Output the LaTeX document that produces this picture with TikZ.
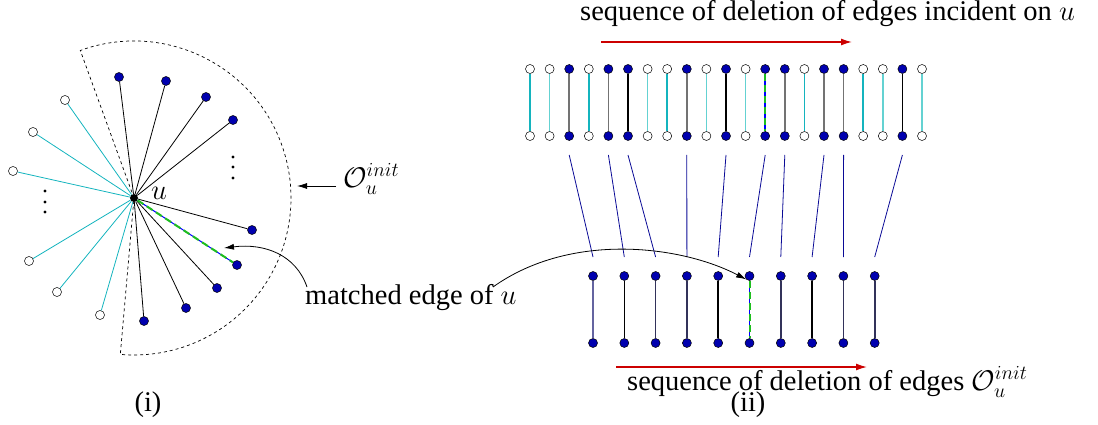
\RequirePackage{fix-cm}
\documentclass[tikz,border=0pt]{standalone}
\usepackage{fontspec}
\setmainfont{Liberation Serif}
\usetikzlibrary{arrows.meta}
\definecolor{nodeblue}{RGB}{0,0,175}
\definecolor{cyanA}{RGB}{20,180,190}
\definecolor{cyanB}{RGB}{100,210,210}
\definecolor{grayE}{RGB}{115,115,115}
\definecolor{slateE}{RGB}{50,50,90}
\definecolor{slateL}{RGB}{100,100,160}
\definecolor{redA}{RGB}{204,0,0}
\definecolor{greenM}{RGB}{30,190,30}
\definecolor{navyL}{RGB}{10,10,150}
\begin{document}
\begin{tikzpicture}[x=1pt,y=-1pt,
  vnode/.style={circle,draw=black,inner sep=0pt,minimum size=9pt,line width=0.5pt},
  fnode/.style={vnode,fill=nodeblue},
  onode/.style={vnode,fill=white},
  blk/.style={draw=black,line width=0.8pt},
  cyn/.style={draw=cyanA,line width=0.8pt},
  matchblue/.style={draw=blue,line width=1pt},
  matchgreen/.style={draw=greenM,line width=2pt,dash pattern=on 7pt off 4pt},
  conn/.style={draw=navyL,line width=0.8pt},
  redarrow/.style={draw=redA,fill=redA,line width=1.4pt,-{Latex[length=11pt,width=7pt]}},
  blkarrow/.style={draw=black,line width=0.8pt,-{Latex[length=10pt,width=6pt]}},
  lbl/.style={inner sep=0pt,anchor=base west},
  every node/.append style={font=\fontsize{28.5}{34}\selectfont}
]
\useasboundingbox (0,0) rectangle (1098,425);

% ---------- left panel ----------
\node[circle,fill=black,inner sep=0pt,minimum size=8pt] (u) at (134,198) {};
\draw[dashed,dash pattern=on 3pt off 3pt,line width=0.7pt]
  (u.center) -- ++(-110:157) arc[start angle=-110,end angle=95,radius=157] -- cycle;

\foreach \n/\x/\y in {f1/119/77,f2/166/81,f3/206/97,f4/233/120,f5/252/230,f6/217/288,f7/186/308,f8/144/321}{
  \node[fnode] (\n) at (\x,\y) {};
  \draw[blk] (u) -- (\n);
}
\foreach \n/\x/\y in {o1/65/100,o2/33/132,o3/13/171,o4/29/261,o5/57/292,o6/100/315}{
  \node[onode] (\n) at (\x,\y) {};
  \draw[cyn] (u) -- (\n);
}
\node[fnode] (mm) at (237,265) {};
\draw[matchblue] (u) -- (mm);
\draw[matchgreen] (u) -- (mm);

\foreach \y in {157,167,178} \fill (233,\y) circle (1.6pt);
\foreach \y in {191,202,212} \fill (45,\y) circle (1.6pt);

\node[lbl] (ulab) at (151,200) {$u$};
\node[lbl] (olab) at (343,187) {$\mathcal{O}_u^{init}$};
\coordinate (otip) at (297,186);
\coordinate (otail) at (336,186);
\draw[blkarrow] (otail) -- (otip);

\node[lbl] (mtext) at (305,304) {matched edge of $u$};
\coordinate (m1s) at (307,287);
\coordinate (m1e) at (224,248);
\draw[blkarrow] (m1s) .. controls (296,255) and (265,243) .. (m1e);

\node[inner sep=0pt,anchor=base] (lab1) at (148,411) {(i)};

% ---------- right panel, top row ----------
\coordinate (yu) at (0,155);
\coordinate (yl) at (0,257);
\foreach \i/\c/\f in {0/cyanA/white,1/cyanB/white,2/grayE/nodeblue,3/cyanA/white,4/grayE/nodeblue,5/black/nodeblue,6/cyanB/white,7/cyanA/white,8/grayE/nodeblue,9/cyanB/white,10/black/nodeblue,11/cyanB/white,12/blue/nodeblue,13/grayE/nodeblue,14/cyanA/white,15/grayE/nodeblue,16/grayE/nodeblue,17/cyanA/white,18/cyanB/white,19/black/nodeblue,20/cyanB/white}{
  \node[vnode,fill=\f] (ta\i) at ({530+19.6*\i},69) {};
  \node[vnode,fill=\f] (tb\i) at ({530+19.6*\i},136) {};
  \draw[draw=\c,line width=1.6pt] (ta\i) -- (tb\i);
}
\draw[matchgreen] (ta12) -- (tb12);

% ---------- right panel, bottom row ----------
\foreach \j/\c in {0/slateL,1/black,2/slateE,3/slateE,4/black,5/blue,6/slateE,7/black,8/slateE,9/slateE}{
  \node[fnode] (ba\j) at ({593+31.3*\j},276) {};
  \node[fnode] (bb\j) at ({593+31.3*\j},343) {};
  \draw[draw=\c,line width=1.6pt] (ba\j) -- (bb\j);
}
\draw[matchgreen] (ba5) -- (bb5);

% connectors
\foreach \i/\j in {2/0,4/1,5/2,8/3,10/4,12/5,13/6,15/7,16/8,19/9}{
  \coordinate (cu\j) at (tb\i |- yu);
  \coordinate (cl\j) at (ba\j |- yl);
  \draw[conn] (cu\j) -- (cl\j);
}

% curve to matched edge in bottom row
\coordinate (m2s) at (493,287);
\draw[blkarrow] (m2s) .. controls (570,232) and (680,245) .. (ba5.south west);

% red arrows and texts
\node[lbl] (toptext) at (580,21) {sequence of deletion of edges incident on $u$};
\coordinate (r1s) at (601,42);
\coordinate (r1e) at (852,42);
\draw[redarrow] (r1s) -- (r1e);

\coordinate (r2s) at (616,367);
\coordinate (r2e) at (867,367);
\draw[redarrow] (r2s) -- (r2e);
\node[lbl] (bottext) at (627,390) {sequence of deletion of edges $\mathcal{O}_u^{init}$};

\node[inner sep=0pt,anchor=base] (lab2) at (748,411) {(ii)};
\end{tikzpicture}
\end{document}
